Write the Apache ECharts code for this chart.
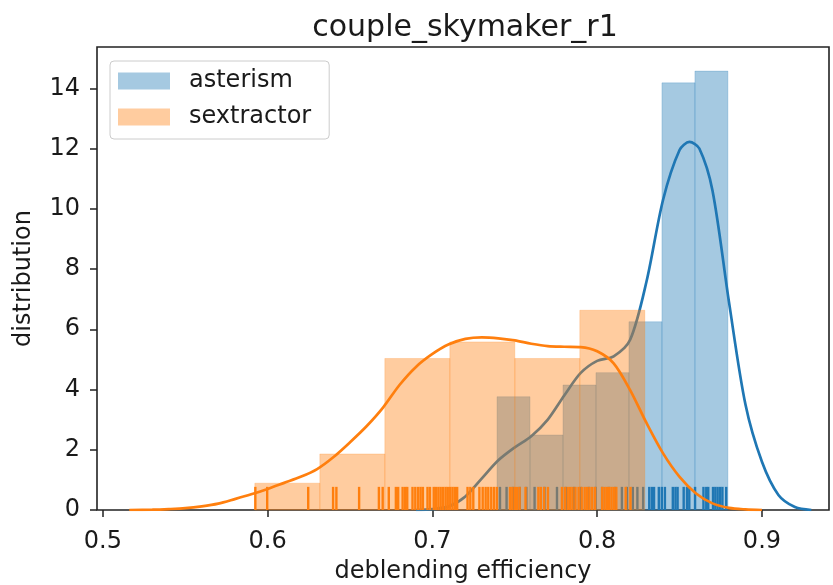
<!DOCTYPE html>
<html>
<head>
<meta charset="utf-8">
<script src="https://cdn.jsdelivr.net/npm/echarts@6/dist/echarts.min.js"></script>
<style>
  html, body { margin: 0; padding: 0; background: #fff; }
  #chart { width: 833px; height: 585px; }
</style>
</head>
<body>
<div id="chart"></div>
<script>
// Histogram bins (left edge of first bin, bin width) and density heights
const asterismBinStart = 0.7392;
const asterismBinWidth = 0.02002;
const asterismDensity = [3.76, 2.49, 4.15, 4.56, 6.25, 14.18, 14.57];

const sextractorBinStart = 0.5922;
const sextractorBinWidth = 0.03945;
const sextractorDensity = [0.89, 1.86, 5.03, 5.58, 5.03, 6.63];

// Kernel density estimates, [efficiency, density]
const asterismKde = [
  [0.690, 0], [0.700, 0.03], [0.710, 0.12], [0.720, 0.45], [0.730, 1.05],
  [0.740, 1.65], [0.750, 2.08], [0.760, 2.45], [0.770, 3.0], [0.780, 3.8],
  [0.790, 4.55], [0.800, 4.95], [0.810, 5.1], [0.820, 5.65], [0.830, 7.6],
  [0.840, 10.3], [0.850, 11.95], [0.856, 12.22], [0.862, 12.0], [0.870, 10.6],
  [0.880, 6.9], [0.890, 3.5], [0.900, 1.6], [0.910, 0.5], [0.920, 0.1],
  [0.930, 0]
];
const sextractorKde = [
  [0.516, 0], [0.530, 0.01], [0.540, 0.03], [0.550, 0.06], [0.560, 0.12],
  [0.570, 0.21], [0.580, 0.36], [0.590, 0.52], [0.600, 0.7], [0.610, 0.9],
  [0.620, 1.1], [0.630, 1.36], [0.640, 1.76], [0.650, 2.25], [0.660, 2.78],
  [0.670, 3.4], [0.680, 4.15], [0.690, 4.75], [0.700, 5.18], [0.710, 5.5],
  [0.720, 5.68], [0.730, 5.73], [0.740, 5.7], [0.750, 5.63], [0.760, 5.52],
  [0.770, 5.44], [0.780, 5.42], [0.790, 5.41], [0.800, 5.27], [0.810, 4.87],
  [0.820, 3.98], [0.830, 2.88], [0.840, 1.88], [0.850, 1.1], [0.860, 0.55],
  [0.870, 0.22], [0.880, 0.07], [0.890, 0.02], [0.900, 0]
];

// Individual measurements shown as rug ticks
const asterismRug = [
  0.741, 0.745, 0.749, 0.753, 0.757, 0.762, 0.768, 0.7756, 0.781, 0.786,
  0.790, 0.795, 0.799, 0.803, 0.807, 0.811, 0.815, 0.818,
  0.8216, 0.8244, 0.8279, 0.8316, 0.8332, 0.8345, 0.8374, 0.8392, 0.8411,
  0.8459, 0.8475, 0.8488, 0.8525, 0.8545, 0.8559, 0.8594, 0.8645, 0.8662,
  0.8674, 0.8703, 0.8717, 0.8731, 0.8746, 0.876, 0.8783
];
const sextractorRug = [
  0.5925, 0.5997, 0.6246, 0.6397, 0.6417, 0.6555, 0.6675, 0.6698, 0.6735,
  0.6778, 0.6792, 0.6819, 0.6834, 0.6847, 0.6879, 0.6896, 0.6913, 0.6928,
  0.6942, 0.697, 0.6985, 0.7008, 0.7021, 0.7036, 0.705, 0.7065, 0.708,
  0.7093, 0.7108, 0.7122, 0.7136, 0.715, 0.7213, 0.723, 0.7248, 0.7285,
  0.7305, 0.7323, 0.7339, 0.7357, 0.7374, 0.7391, 0.7471, 0.7485, 0.75,
  0.7514, 0.7529, 0.7565, 0.7643, 0.7658, 0.7678, 0.7701, 0.7786, 0.7804,
  0.7821, 0.7836, 0.785, 0.7868, 0.7887, 0.7906, 0.7924, 0.7939, 0.7953,
  0.797, 0.7987, 0.803, 0.8045, 0.8059, 0.8073, 0.8087, 0.8101, 0.8116,
  0.8173, 0.8202
];

const xTicks = [0.5, 0.6, 0.7, 0.8, 0.9];
const yTicks = [0, 2, 4, 6, 8, 10, 12, 14];

const BLUE = '#1f77b4';
const ORANGE = '#ff7f0e';
const FONT = 'DejaVu Sans';
const INK = '#1a1a1a';

function binRows(start, width, heights) {
  return heights.map((h, i) => [start + i * width, start + (i + 1) * width, h]);
}

function histSeries(name, rows, rgb, z) {
  return {
    name: name,
    type: 'custom',
    z: z,
    itemStyle: { color: 'rgba(' + rgb + ',0.4)' },
    encode: { x: [0, 1], y: 2 },
    data: rows,
    renderItem: function (params, api) {
      const p0 = api.coord([api.value(0), api.value(2)]);
      const p1 = api.coord([api.value(1), 0]);
      return {
        type: 'rect',
        shape: { x: p0[0], y: p0[1], width: p1[0] - p0[0], height: p1[1] - p0[1] },
        style: { fill: 'rgba(' + rgb + ',0.4)', stroke: 'rgba(' + rgb + ',0.22)', lineWidth: 1 }
      };
    }
  };
}

function rugSeries(name, values, color, z) {
  return {
    name: name + ' rug',
    type: 'custom',
    z: z,
    silent: true,
    encode: { x: 0 },
    data: values.map(v => [v]),
    renderItem: function (params, api) {
      const p = api.coord([api.value(0), 0]);
      const h = params.coordSys.height * 0.05;
      return {
        type: 'line',
        shape: { x1: p[0], y1: p[1], x2: p[0], y2: p[1] - h },
        style: { stroke: color, lineWidth: 2.4 }
      };
    }
  };
}

function kdeSeries(name, data, color, z) {
  return {
    name: name + ' kde',
    type: 'line',
    z: z,
    data: data,
    smooth: 0.3,
    showSymbol: false,
    symbol: 'none',
    silent: true,
    lineStyle: { color: color, width: 2.7 }
  };
}

const chart = echarts.init(document.getElementById('chart'), null, { renderer: 'canvas' });

chart.setOption({
  animation: false,
  backgroundColor: '#fff',
  textStyle: { fontFamily: FONT },
  graphic: [{
    type: 'text',
    x: 465, y: 28,
    style: {
      text: 'couple_skymaker_r1',
      font: '30px "DejaVu Sans"',
      fill: INK,
      textAlign: 'center',
      textVerticalAlign: 'middle'
    }
  }],
  grid: {
    left: 97, top: 47, right: 4, bottom: 75,
    containLabel: false,
    outerBoundsMode: 'none',
    show: true, borderColor: '#222', borderWidth: 1.6, backgroundColor: 'transparent'
  },
  legend: {
    orient: 'vertical',
    left: 110, top: 61,
    data: ['asterism', 'sextractor'],
    icon: 'rect',
    itemWidth: 52, itemHeight: 17, itemGap: 12,
    padding: [8, 18, 10, 8],
    borderColor: '#cccccc', borderWidth: 1, borderRadius: 4,
    backgroundColor: 'rgba(255,255,255,0.8)',
    textStyle: { fontFamily: FONT, fontSize: 24, color: INK, padding: [0, 0, 0, 14] }
  },
  xAxis: {
    type: 'value',
    min: 0.4964, max: 0.9407,
    name: 'deblending efficiency',
    nameLocation: 'middle',
    nameGap: 50,
    nameTextStyle: { fontFamily: FONT, fontSize: 24, color: INK },
    axisLine: { show: false },
    axisTick: { show: true, length: 7, lineStyle: { color: '#222', width: 1.5 }, customValues: xTicks },
    axisLabel: { fontFamily: FONT, fontSize: 24, color: INK, margin: 20, customValues: xTicks,
      formatter: v => v.toFixed(1) },
    splitLine: { show: false }
  },
  yAxis: {
    type: 'value',
    min: 0, max: 15.37,
    name: 'distribution',
    nameLocation: 'middle',
    nameGap: 61,
    nameTextStyle: { fontFamily: FONT, fontSize: 24, color: INK },
    axisLine: { show: false },
    axisTick: { show: true, length: 7, lineStyle: { color: '#222', width: 1.5 }, customValues: yTicks },
    axisLabel: { fontFamily: FONT, fontSize: 24, color: INK, margin: 17, customValues: yTicks },
    splitLine: { show: false }
  },
  series: [
    histSeries('asterism', binRows(asterismBinStart, asterismBinWidth, asterismDensity), '31,119,180', 1),
    kdeSeries('asterism', asterismKde, BLUE, 2),
    rugSeries('asterism', asterismRug, BLUE, 3),
    histSeries('sextractor', binRows(sextractorBinStart, sextractorBinWidth, sextractorDensity), '255,127,14', 4),
    kdeSeries('sextractor', sextractorKde, ORANGE, 5),
    rugSeries('sextractor', sextractorRug, ORANGE, 6)
  ]
});
</script>
</body>
</html>
